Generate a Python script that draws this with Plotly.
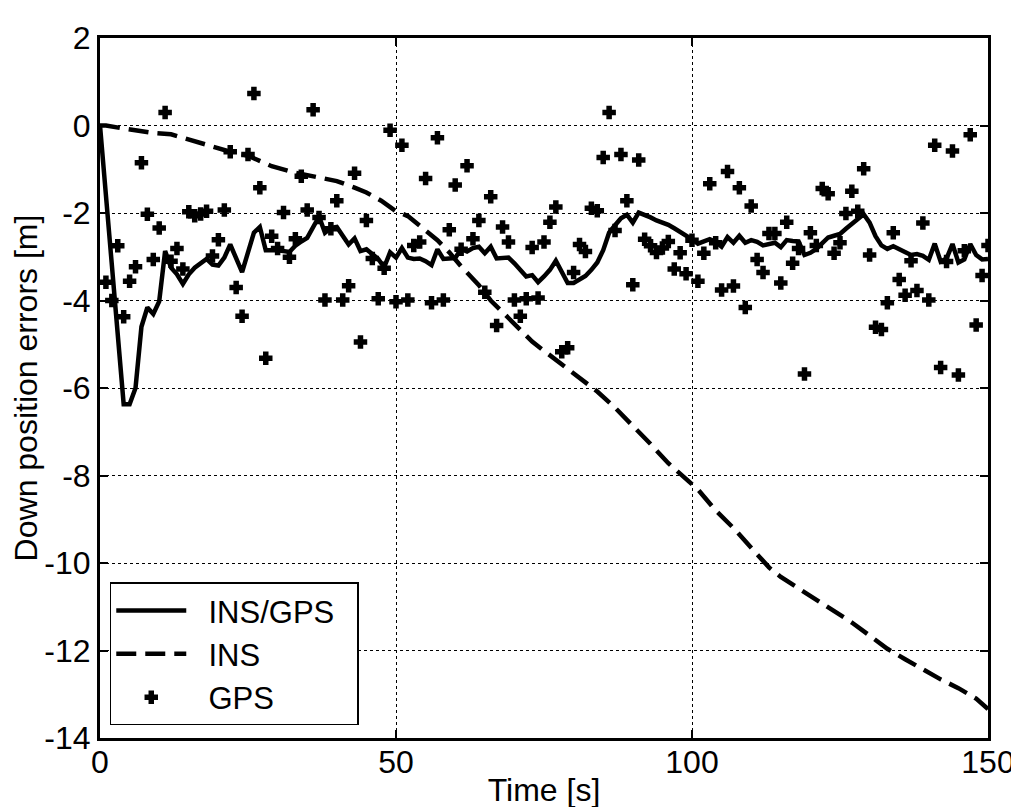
import plotly.graph_objects as go

# ---- INS/GPS integrated solution (solid) ----
fused_t = [0, 4, 5, 6, 7, 8, 9, 10, 11, 12, 13, 14, 15, 16, 18, 19, 20, 21, 22, 24,
           26, 27, 28, 30, 32, 33, 34, 35, 37, 38, 39, 40, 41, 42, 43, 44, 45, 46, 47, 48,
           49, 50, 51, 52, 53, 54, 55, 56, 57, 58, 59, 60, 61, 62, 63, 64, 65, 66, 67, 68,
           69, 70, 71, 72, 73, 74, 75, 76, 77, 78, 79, 80, 81, 82, 83, 84, 85, 86, 87, 88,
           89, 90, 91, 92, 93, 94, 95, 96, 97, 98, 99, 100, 101, 102, 103, 104, 105, 106, 107, 108,
           109, 110, 111, 112, 113, 114, 115, 116, 117, 118, 119, 120, 121, 122, 123, 124, 125, 126, 127, 128,
           129, 130, 131, 132, 133, 134, 135, 136, 137, 138, 139, 140, 141, 142, 143, 144, 145, 146, 147, 148,
           149, 150]
fused_err = [0, -6.37, -6.37, -6.0, -4.6, -4.16, -4.31, -4.02, -2.87, -3.25, -3.40, -3.62, -3.40, -3.25, -3.05, -3.18, -3.20, -3.02, -2.72, -3.35,
             -2.45, -2.32, -2.85, -2.85, -2.89, -2.75, -2.65, -2.57, -2.08, -2.45, -2.34, -2.32, -2.52, -2.72, -2.58, -2.87, -2.83, -2.95, -3.05, -3.24,
             -2.90, -3.02, -2.80, -3.02, -3.05, -3.04, -3.10, -3.19, -2.83, -3.05, -3.05, -3.03, -2.82, -2.88, -2.80, -2.77, -2.92, -2.77, -3.04, -3.02,
             -3.02, -3.15, -3.30, -3.45, -3.42, -3.58, -3.45, -3.30, -3.09, -3.35, -3.60, -3.60, -3.52, -3.44, -3.30, -3.13, -2.85, -2.45, -2.28, -2.12,
             -2.04, -2.22, -1.99, -2.04, -2.10, -2.17, -2.22, -2.27, -2.35, -2.43, -2.52, -2.60, -2.70, -2.65, -2.60, -2.66, -2.77, -2.55, -2.68, -2.52,
             -2.68, -2.62, -2.66, -2.74, -2.70, -2.68, -2.78, -2.62, -2.64, -2.65, -2.96, -2.91, -2.82, -2.68, -2.56, -2.52, -2.48, -2.36, -2.24, -2.14,
             -2.03, -2.22, -2.53, -2.74, -2.82, -2.76, -2.83, -2.91, -2.96, -2.94, -2.98, -3.07, -2.70, -3.11, -3.04, -2.71, -3.13, -3.06, -2.71, -2.96,
             -3.06, -3.05]

# ---- INS only (dashed) ----
ins_t = [0, 1, 4, 6, 9, 12, 14, 16, 19, 22, 25, 27, 29, 33, 37, 40, 43, 45, 47.5, 50,
         52, 54, 57, 59, 61, 64, 66, 69, 71, 73, 75, 78, 81, 84, 87, 90, 93, 96, 99, 101,
         104, 107, 110, 113, 115, 118, 121, 124, 127, 130, 133, 136, 139, 142, 145, 148, 150]
ins_err = [0, 0.0, -0.07, -0.12, -0.17, -0.20, -0.28, -0.38, -0.49, -0.60, -0.69, -0.80, -0.93, -1.08, -1.19, -1.27, -1.42, -1.53, -1.72, -1.96,
           -2.07, -2.30, -2.62, -2.90, -3.22, -3.65, -4.0, -4.40, -4.68, -4.94, -5.15, -5.45, -5.77, -6.08, -6.45, -6.85, -7.28, -7.72, -8.08, -8.32,
           -8.80, -9.20, -9.65, -10.10, -10.32, -10.58, -10.82, -11.08, -11.36, -11.66, -11.96, -12.20, -12.44, -12.66, -12.86, -13.10, -13.34]

# ---- GPS measurements (markers) ----
gps_t = list(range(1, 151))
gps_err = [-3.58, -4.00, -2.75, -4.37, -3.56, -3.23, -0.85, -2.03, -3.06, -2.34,
           0.30, -3.10, -2.81, -3.28, -1.97, -2.06, -2.02, -1.96, -2.98, -2.61,
           -1.93, -0.60, -3.70, -4.36, -0.66, 0.73, -1.42, -5.32, -2.53, -2.81,
           -1.99, -3.01, -2.59, -1.16, -1.93, 0.36, -2.10, -3.99, -2.36, -1.72,
           -3.99, -3.66, -1.09, -4.95, -2.17, -3.04, -3.96, -3.26, -0.11, -4.03,
           -0.45, -3.99, -2.74, -2.66, -1.21, -4.05, -0.28, -3.99, -2.38, -1.36,
           -2.83, -0.92, -2.59, -2.17, -3.81, -1.63, -4.57, -2.32, -2.66, -3.99,
           -4.36, -3.96, -2.79, -3.94, -2.66, -2.21, -1.86, -5.17, -5.08, -3.36,
           -2.72, -2.88, -1.89, -1.95, -0.73, 0.30, -2.40, -0.66, -1.72, -3.64,
           -0.79, -2.60, -2.75, -2.90, -2.80, -2.65, -3.28, -2.91, -3.39, -2.62,
           -3.56, -2.92, -1.33, -2.68, -3.76, -1.05, -3.67, -1.42, -4.16, -1.84,
           -3.06, -3.36, -2.47, -2.47, -3.60, -2.21, -3.15, -2.81, -5.68, -2.45,
           -2.74, -1.44, -1.56, -2.92, -2.68, -2.01, -1.50, -1.96, -0.99, -2.96,
           -4.61, -4.66, -4.05, -2.45, -3.52, -3.88, -3.09, -3.77, -2.23, -3.99,
           -0.45, -5.53, -3.11, -0.58, -5.70, -2.86, -0.21, -4.56, -3.43, -2.74]

x_ticks = [0, 50, 100, 150]
y_ticks = [2, 0, -2, -4, -6, -8, -10, -12, -14]

FONT = "Liberation Sans, Arial, Helvetica, sans-serif"
NB = "\u00a0"

fig = go.Figure()
fig.add_trace(go.Scatter(x=fused_t, y=fused_err, mode="lines", name=NB * 2 + "INS/GPS" + NB * 2,
                         line=dict(color="black", width=4.5)))
fig.add_trace(go.Scatter(x=ins_t, y=ins_err, mode="lines", name=NB * 2 + "INS",
                         line=dict(color="black", width=4.5, dash="20px,9px")))
fig.add_trace(go.Scatter(x=gps_t, y=gps_err, mode="markers", name=NB * 2 + "GPS",
                         marker=dict(symbol="cross", size=10, color="black",
                                     line=dict(width=1.5, color="black"))))

fig.update_layout(
    width=1019, height=807,
    margin=dict(l=88, r=33, t=24, b=71),
    paper_bgcolor="white", plot_bgcolor="white",
    font=dict(family=FONT, size=32, color="black"),
    showlegend=True,
    legend=dict(x=0.011, y=0.018, xanchor="left", yanchor="bottom",
                bgcolor="white", bordercolor="black", borderwidth=1.5,
                font=dict(size=31), itemwidth=70, tracegroupgap=0),
)
fig.update_xaxes(range=[0, 150], tickvals=x_ticks, ticktext=[str(v) for v in x_ticks],
                 showline=True, linecolor="black", linewidth=3, mirror="ticks",
                 ticks="inside", ticklen=8, tickwidth=2, tickcolor="black",
                 ticklabelstandoff=-6,
                 showgrid=True, gridcolor="black", griddash="dot", gridwidth=1,
                 zeroline=False,
                 title=dict(text="Time [s]", standoff=0, font=dict(size=32)))
fig.update_yaxes(range=[-14, 2], tickvals=y_ticks, ticktext=[str(v) for v in y_ticks],
                 showline=True, linecolor="black", linewidth=3, mirror="ticks",
                 ticks="inside", ticklen=8, tickwidth=2, tickcolor="black",
                 showgrid=True, gridcolor="black", griddash="dot", gridwidth=1,
                 zeroline=False,
                 title=dict(text="Down position errors [m]", standoff=2, font=dict(size=32)))

fig.write_html("out.html")
